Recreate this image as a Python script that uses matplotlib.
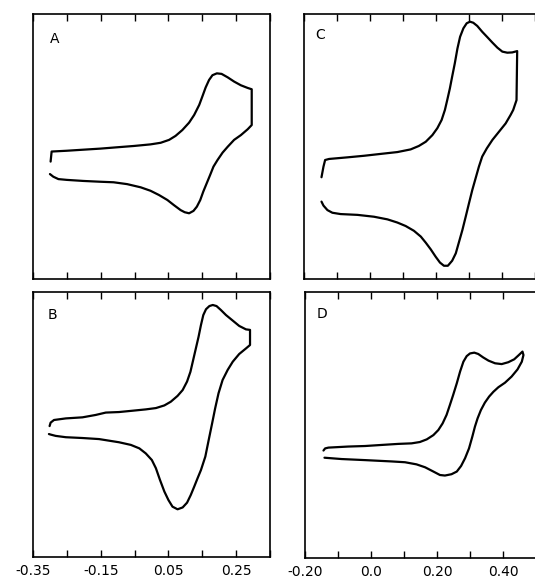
import numpy as np
import matplotlib
matplotlib.use('Agg')
import matplotlib.pyplot as plt

# potentials in V, currents in arbitrary units (0-100 = full panel height)
# panel A
eA=[-0.298,-0.295,-0.250,-0.201,-0.151,-0.102,-0.052,-0.003,0.027,0.052,0.071,0.091,0.111,0.126,
    0.141,0.150,0.160,0.170,0.180,0.193,0.207,0.225,0.244,0.264,0.284,0.296,
    0.296,0.284,0.264,0.244,0.225,0.210,0.195,0.183,0.173,0.163,0.153,0.144,0.134,0.124,0.111,
    0.098,0.086,0.066,0.047,0.022,-0.003,-0.032,-0.072,-0.112,-0.151,-0.201,-0.250,-0.275,-0.290,-0.300]
iA=[44.3,48.1,48.4,48.8,49.2,49.7,50.2,50.8,51.4,52.5,54.0,56.2,59.0,61.9,
    65.7,68.8,72.3,75.1,76.9,77.6,77.4,76.1,74.5,73.1,72.1,71.6,
    58.1,56.5,54.3,52.5,49.9,47.7,44.9,42.4,39.2,36.1,33.0,29.8,27.3,25.7,24.8,
    25.2,26.0,27.9,29.8,31.7,33.3,34.6,35.8,36.5,36.7,37.0,37.4,37.7,38.6,39.6]
# panel B
eB=[-0.301,-0.298,-0.288,-0.253,-0.204,-0.165,-0.135,-0.096,-0.056,-0.017,0.013,0.038,0.057,0.077,
    0.092,0.105,0.115,0.123,0.131,0.139,0.146,0.153,0.161,0.171,0.181,0.192,0.205,0.220,0.240,
    0.259,0.279,0.291,0.291,0.279,0.259,0.240,0.225,0.210,0.198,0.188,0.179,0.169,0.159,0.146,
    0.136,0.126,0.116,0.105,0.092,0.077,0.062,0.050,0.038,0.025,0.013,0.001,-0.017,-0.036,
    -0.061,-0.096,-0.155,-0.204,-0.253,-0.283,-0.298,-0.303]
iB=[49.4,50.7,51.7,52.3,52.7,53.6,54.5,54.7,55.2,55.7,56.2,57.2,58.6,60.8,
    63.0,66.2,69.9,74.3,78.7,83.1,87.5,91.3,93.5,94.7,95.1,94.7,93.2,91.3,89.2,
    87.2,85.9,85.7,80.0,78.7,76.6,73.7,70.6,66.8,61.8,56.1,50.4,44.2,37.9,32.8,
    29.7,26.5,23.4,20.5,18.7,18.0,19.0,21.5,24.7,29.1,33.5,36.6,39.1,41.0,
    42.3,43.3,44.5,44.9,45.2,45.7,46.2,46.4]
# panel C
eC=[-0.147,-0.141,-0.136,-0.124,-0.069,-0.018,0.032,0.083,0.123,0.148,0.169,0.189,0.204,0.217,
    0.227,0.234,0.242,0.249,0.257,0.265,0.273,0.283,0.293,0.303,0.313,0.325,0.340,0.356,0.371,
    0.386,0.401,0.416,0.431,0.446,0.444,0.438,0.434,0.426,0.411,0.391,0.371,0.354,0.340,0.330,
    0.320,0.310,0.300,0.290,0.280,0.270,0.260,0.249,0.236,0.224,0.212,0.199,0.184,0.169,0.154,
    0.133,0.108,0.083,0.053,0.012,-0.038,-0.089,-0.114,-0.129,-0.141,-0.147]
iC=[38.4,42.4,44.9,45.3,45.9,46.5,47.2,47.9,48.9,50.2,51.8,54.3,56.9,60.0,
    63.8,67.5,71.9,76.4,81.4,87.0,91.4,94.6,96.5,97.1,96.7,95.5,93.3,91.2,89.2,
    87.3,85.8,85.4,85.5,86.0,67.5,65.3,63.8,61.9,58.7,55.6,52.5,49.3,46.2,42.4,
    38.0,33.6,28.6,23.5,18.5,14.1,9.7,6.9,5.0,5.0,6.2,8.4,11.2,13.7,16.0,
    18.2,20.0,21.3,22.5,23.5,24.2,24.5,25.0,26.0,27.7,29.2]
# panel D
eD=[-0.144,-0.139,-0.129,-0.069,-0.018,0.032,0.083,0.123,0.148,0.169,0.189,0.204,0.217,0.229,
    0.239,0.249,0.260,0.270,0.280,0.290,0.300,0.313,0.325,0.340,0.356,0.376,0.396,0.416,0.434,
    0.448,0.459,0.462,0.457,0.444,0.426,0.406,0.386,0.371,0.358,0.345,0.333,0.323,0.315,0.307,
    0.297,0.285,0.273,0.260,0.244,0.224,0.209,0.189,0.164,0.138,0.103,0.063,-0.018,-0.089,-0.141]
iD=[40.4,41.2,41.5,41.9,42.1,42.5,42.9,43.1,43.6,44.6,46.2,48.1,50.6,53.8,
    57.5,61.3,65.7,70.1,73.8,75.9,76.9,77.2,76.7,75.4,74.2,73.2,72.9,73.6,74.7,
    76.3,77.6,76.3,73.8,70.9,68.2,65.9,64.2,62.5,60.7,58.4,55.6,52.5,49.4,45.6,
    41.2,37.5,34.6,32.5,31.5,31.0,31.2,32.5,34.1,35.2,36.0,36.3,36.8,37.2,37.7]

left_ticks=[-0.35,-0.25,-0.15,-0.05,0.05,0.15,0.25,0.35]
left_labels=['-0.35','','-0.15','','0.05','','0.25','']
right_ticks=[-0.2,-0.1,0.0,0.1,0.2,0.3,0.4,0.5]
right_labels=['-0.20','','0.0','','0.20','','0.40','']

W,H=535.,580.
fig=plt.figure(figsize=(W/100,H/100),dpi=100)

def px_axes(x0,y0,w,h):
    return fig.add_axes([x0/W,1-(y0+h)/H,w/W,h/H])

axA=px_axes(33,14,237,265)
axB=px_axes(33,292,237,265)
axC=px_axes(304,14,240,265)
axD=px_axes(305,292,240,266)

panels=[(axA,eA,iA,'A',(-0.35,0.35),left_ticks,left_labels,(0.093,0.906)),
        (axB,eB,iB,'B',(-0.35,0.35),left_ticks,left_labels,(0.084,0.913)),
        (axC,eC,iC,'C',(-0.2,-0.2+240/330.),right_ticks,right_labels,(0.068,0.92)),
        (axD,eD,iD,'D',(-0.2,-0.2+240/330.),right_ticks,right_labels,(0.072,0.917))]

for ax,e,i,lab,xl,tk,tl,pos in panels:
    ax.plot(e,i,color='k',lw=1.6,solid_joinstyle='round',solid_capstyle='round')
    ax.set_xlim(xl)
    ax.set_ylim(0,100)
    ax.set_yticks([])
    ax.set_xticks(tk)
    if ax in (axB,axD):
        ax.set_xticklabels(tl)
    else:
        ax.set_xticklabels(['']*len(tk))
    ax.tick_params(axis='x',direction='in',top=True,bottom=True,length=5,width=1,pad=5,labelsize=10)
    for s in ax.spines.values():
        s.set_linewidth(1.2)
    ax.text(pos[0],pos[1],lab,transform=ax.transAxes,ha='center',va='center',fontsize=10)

fig.savefig('out.png',dpi=100)
